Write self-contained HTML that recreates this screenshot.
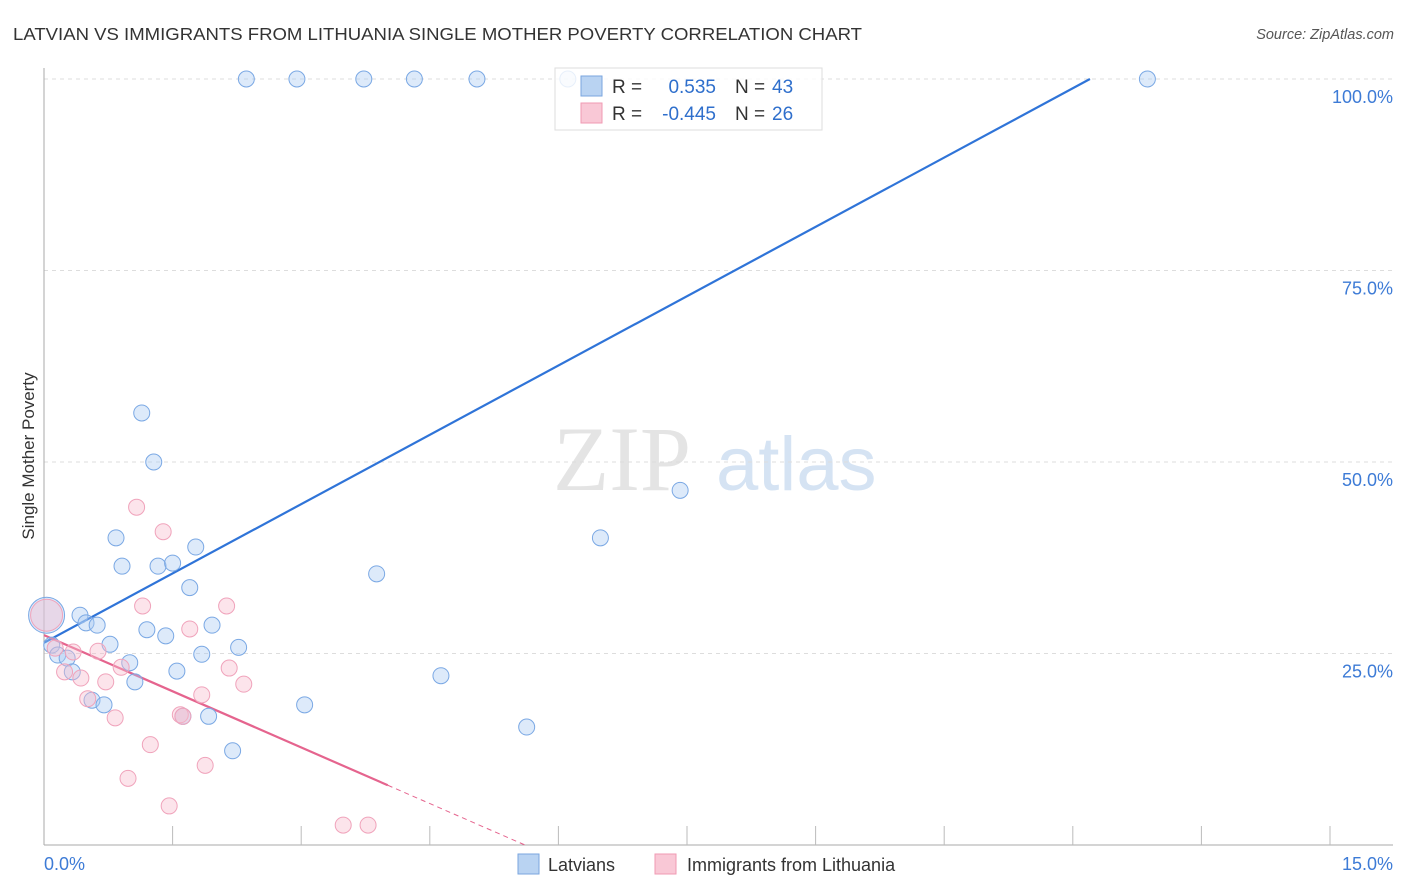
<!DOCTYPE html>
<html><head><meta charset="utf-8"><style>
body{margin:0;background:#fff;}
svg{display:block;font-family:"Liberation Sans",sans-serif;}
</style></head><body>
<svg id="chart" width="1406" height="892">
<text x="13" y="40" font-size="17.5" fill="#333" textLength="849" lengthAdjust="spacingAndGlyphs">LATVIAN VS IMMIGRANTS FROM LITHUANIA SINGLE MOTHER POVERTY CORRELATION CHART</text>
<text x="1394" y="39" font-size="14.5" fill="#555" font-style="italic" text-anchor="end">Source: ZipAtlas.com</text>
<text x="0" y="0" transform="translate(34,456) rotate(-90)" font-size="17" fill="#333" text-anchor="middle">Single Mother Poverty</text>
<g>
<text x="553" y="490" font-size="92" font-family="Liberation Serif,serif" fill="#e4e4e4">ZIP</text>
<text x="716" y="490" font-size="76" fill="#d5e3f3">atlas</text>
</g>
<g id="grid"></g>
<g id="axes"></g>
<g id="lines"></g>
<g id="pts"></g>
<g>
<rect x="555" y="68" width="267" height="62" fill="rgba(255,255,255,0.82)" stroke="#ddd"/>
<rect x="581" y="76" width="21" height="20" fill="#b9d3f2" stroke="#7aa6df"/>
<rect x="581" y="103" width="21" height="20" fill="#f9c8d6" stroke="#f09ab3"/>
<text x="612" y="93" font-size="19" fill="#333">R =</text>
<text x="716" y="93" font-size="19" fill="#2f6fcc" text-anchor="end">0.535</text>
<text x="735" y="93" font-size="19" fill="#333">N =</text>
<text x="772" y="93" font-size="19" fill="#2f6fcc">43</text>
<text x="612" y="120" font-size="19" fill="#333">R =</text>
<text x="716" y="120" font-size="19" fill="#2f6fcc" text-anchor="end">-0.445</text>
<text x="735" y="120" font-size="19" fill="#333">N =</text>
<text x="772" y="120" font-size="19" fill="#2f6fcc">26</text>
</g>
<g>
<rect x="518" y="854" width="21" height="20" fill="#b9d3f2" stroke="#7aa6df"/>
<text x="548" y="871" font-size="18" fill="#333">Latvians</text>
<rect x="655" y="854" width="21" height="20" fill="#f9c8d6" stroke="#f09ab3"/>
<text x="687" y="871" font-size="18" fill="#333">Immigrants from Lithuania</text>
</g>
</svg>
<script>
const blueX=[2.36,2.95,3.73,4.32,5.05,6.11,12.87,1.14,1.28,7.42,6.49,0.84,1.77,0.91,1.33,1.50,3.88,1.70,0.42,0.03,0.49,0.62,1.20,1.42,1.96,0.77,2.27,0.09,0.16,0.27,1.84,1.00,0.33,1.55,4.63,1.06,0.56,0.70,3.04,1.62,1.92,5.63,2.20];
const blueY=[100,100,100,100,100,100,100,56.4,50.0,46.3,40.1,40.1,38.9,36.4,36.4,36.8,35.4,33.6,30.0,30.0,29.0,28.7,28.1,27.3,28.7,26.2,25.8,26.1,24.8,24.4,24.9,23.8,22.6,22.7,22.1,21.3,18.9,18.3,18.3,16.8,16.8,15.4,12.3];
const pinkX=[1.08,1.39,0.03,1.15,2.13,1.70,0.13,0.63,0.34,0.90,2.16,0.24,0.43,0.72,2.33,1.84,0.51,0.83,1.59,1.24,1.88,0.98,1.46,3.49,3.78,1.62];
const pinkY=[44.1,40.9,30.0,31.2,31.2,28.2,25.7,25.3,25.2,23.2,23.1,22.6,21.8,21.3,21.0,19.6,19.1,16.6,17.0,13.1,10.4,8.7,5.1,2.6,2.6,16.8];
const bigIdxBlue=19, bigIdxPink=2;
const blueTrend=[0,26.4,12.2,100];
const pinkTrend=[0,27.4,4.01,7.8,5.61,0];
const yTicks=[25,50,75,100];
const yTickLabels=["25.0%","50.0%","75.0%","100.0%"];
const xTicks=[1.5,3,4.5,6,7.5,9,10.5,12,13.5,15];

const X=v=>44+v/15*1286, Y=v=>845-v/100*766;
const NS="http://www.w3.org/2000/svg";
function mk(tag,attrs,parent){const e=document.createElementNS(NS,tag);for(const k in attrs)e.setAttribute(k,attrs[k]);parent.appendChild(e);return e;}
const grid=document.getElementById('grid'),axes=document.getElementById('axes'),lines=document.getElementById('lines'),pts=document.getElementById('pts');
yTicks.forEach((t,i)=>{
 const l=mk('line',{x1:44,x2:1393,y1:Y(t),y2:Y(t),stroke:'#ddd','stroke-dasharray':'4,4'},grid);
 
 
 const tx=mk('text',{x:1393,y:Y(t)+24,'font-size':18,fill:'#3d7bd6','text-anchor':'end'},grid);
 tx.textContent=yTickLabels[i];
 
 
});
const ya=mk('line',{x1:44,x2:44,y1:68,y2:845,stroke:'#aaa'},axes);


const xa=mk('line',{x1:44,x2:1393,y1:845,y2:845,stroke:'#aaa'},axes);


xTicks.forEach(t=>{
 const l=mk('line',{x1:X(t),x2:X(t),y1:826,y2:845,stroke:'#bbb'},axes);
 
 
});
const x0=mk('text',{x:44,y:870,'font-size':18,fill:'#3d7bd6'},axes);x0.textContent='0.0%';


const x1=mk('text',{x:1393,y:870,'font-size':18,fill:'#3d7bd6','text-anchor':'end'},axes);x1.textContent='15.0%';



function dot(x,y,r,fill,stroke,name){
 const c=mk('circle',{cx:X(x),cy:Y(y),r:r,fill:fill,stroke:stroke,'stroke-width':1},pts);
 
 
}
blueX.forEach((x,i)=>dot(x,blueY[i],i===bigIdxBlue?18:8,'rgba(170,202,242,0.4)','#7aa8e4','latvian-point'));
pinkX.forEach((x,i)=>dot(x,pinkY[i],i===bigIdxPink?16:8,'rgba(248,188,206,0.4)','#f0a3bb','lithuania-point'));

const bl=mk('line',{x1:X(blueTrend[0]),y1:Y(blueTrend[1]),x2:X(blueTrend[2]),y2:Y(blueTrend[3]),stroke:'#2f74d8','stroke-width':2.2},lines);


const pl=mk('line',{x1:X(pinkTrend[0]),y1:Y(pinkTrend[1]),x2:X(pinkTrend[2]),y2:Y(pinkTrend[3]),stroke:'#e5648e','stroke-width':2.2},lines);


const pd=mk('line',{x1:X(pinkTrend[2]),y1:Y(pinkTrend[3]),x2:X(pinkTrend[4]),y2:Y(pinkTrend[5]),stroke:'#e5648e','stroke-width':1,'stroke-dasharray':'5,4'},lines);


</script>
</body></html>
